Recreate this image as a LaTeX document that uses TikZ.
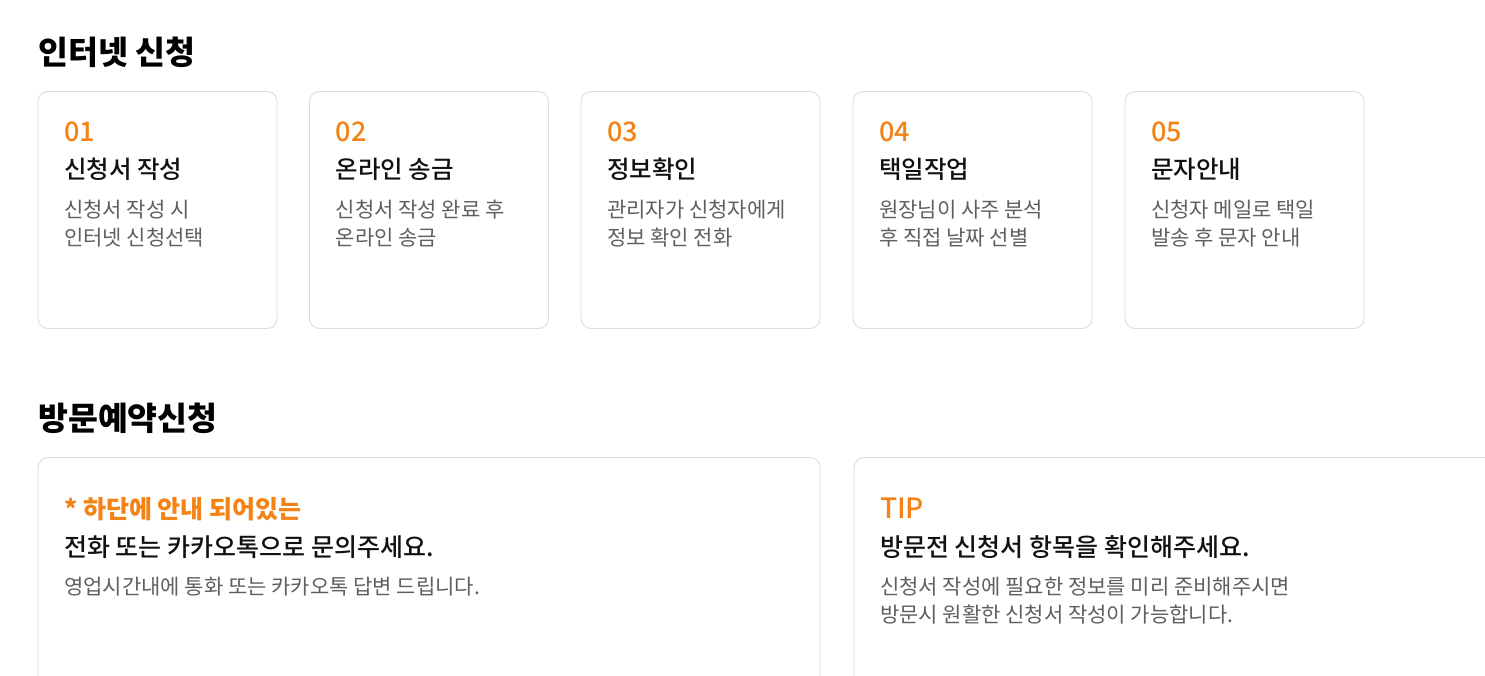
\documentclass[tikz,border=0pt]{standalone}
\usepackage{fontspec}
\setmainfont{Noto Sans CJK KR}
\newfontfamily\medfont{Noto Sans CJK KR Medium}
\definecolor{accent}{RGB}{245,130,20}
\definecolor{cardline}{RGB}{220,220,220}
\definecolor{desc}{RGB}{95,95,95}
\definecolor{ink}{RGB}{17,17,17}
\tikzset{
  card/.style={draw=cardline, line width=0.9pt, fill=white, rounded corners=10pt},
  txt/.style={inner sep=0pt, anchor=base west},
  heading/.style={txt, font=\fontsize{32.5}{36}\selectfont\bfseries, text=black},
  stepnum/.style={txt, font=\fontsize{27}{30}\selectfont\medfont, text=accent},
  steptitle/.style={txt, font=\fontsize{24.5}{28}\selectfont\medfont, text=ink},
  stepdesc/.style={txt, font=\fontsize{21}{24}\selectfont, text=desc},
  notetag/.style={txt, font=\fontsize{25}{28}\selectfont\bfseries, text=accent},
  tiptag/.style={txt, font=\fontsize{28}{30}\selectfont\medfont, text=accent},
  notetitle/.style={txt, font=\fontsize{25}{28}\selectfont\medfont, text=ink},
}
\begin{document}
\begin{tikzpicture}[x=1pt,y=-1pt]
\useasboundingbox (0,0) rectangle (1485,675);
\clip (0,0) rectangle (1485,675);
\fill[white] (0,0) rectangle (1485,675);

\node[heading] (h1) at (38,64) {인터넷 신청};

\foreach \i/\x/\n/\t/\da/\db in {
  1/38/01/신청서 작성/신청서 작성 시/인터넷 신청선택,
  2/309.5/02/온라인 송금/신청서 작성 완료 후/온라인 송금,
  3/581/03/정보확인/관리자가 신청자에게/정보 확인 전화,
  4/853/04/택일작업/원장님이 사주 분석/후 직접 날짜 선별,
  5/1125/05/문자안내/신청자 메일로 택일/발송 후 문자 안내}{
  \draw[card] (\x,91.5) rectangle ++(239,237) node[coordinate] (card\i) {};
  \node[stepnum] (num\i) at (\x+26,141) {\n};
  \node[steptitle] (title\i) at (\x+26,178) {\t};
  \node[stepdesc] (desca\i) at (\x+26,217) {\da};
  \node[stepdesc] (descb\i) at (\x+26,245) {\db};
}

\node[heading] (h2) at (38,430) {방문예약신청};

\draw[card] (38,457.5) rectangle (820,720);
\node[notetag] (tagA) at (64,518) {* 하단에 안내 되어있는};
\node[notetitle] (titleA) at (64,556) {전화 또는 카카오톡으로 문의주세요.};
\node[stepdesc] (descA) at (64,594) {영업시간내에 통화 또는 카카오톡 답변 드립니다.};

\draw[card] (854,457.5) rectangle (1530,720);
\node[tiptag] (tagB) at (880,518) {TIP};
\node[notetitle] (titleB) at (880,556) {방문전 신청서 항목을 확인해주세요.};
\node[stepdesc] (descB1) at (880,594) {신청서 작성에 필요한 정보를 미리 준비해주시면};
\node[stepdesc] (descB2) at (880,622) {방문시 원활한 신청서 작성이 가능합니다.};
\end{tikzpicture}
\end{document}
